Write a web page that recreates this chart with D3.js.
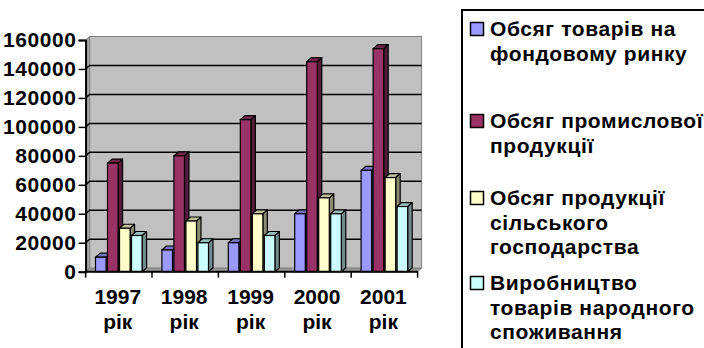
<!DOCTYPE html>
<html>
<head>
<meta charset="utf-8">
<script src="https://cdn.jsdelivr.net/npm/d3@7/dist/d3.min.js"></script>
<style>
  html, body { margin: 0; padding: 0; background: #ffffff; }
  svg { display: block; }
  text { font-family: "Liberation Sans", Arial, sans-serif; font-weight: bold; fill: #000; }
</style>
</head>
<body>
<div id="chart"></div>
<script>
// Categories and series
const years = ["1997", "1998", "1999", "2000", "2001"];
const yearSuffix = "рік";
const seriesNames = [
  "Обсяг товарів на фондовому ринку",
  "Обсяг промислової продукції",
  "Обсяг продукції сільського господарства",
  "Виробництво товарів народного споживання"
];
const legendLines = [
  ["Обсяг товарів на", "фондовому ринку"],
  ["Обсяг промислової", "продукції"],
  ["Обсяг продукції", "сільського", "господарства"],
  ["Виробництво", "товарів народного", "споживання"]
];
const stockMarket   = [10000, 15000, 20000, 40000, 70000];
const industrial    = [75000, 80000, 105000, 145000, 154000];
const agricultural  = [30000, 35000, 40000, 51000, 65000];
const consumerGoods = [25000, 20000, 25000, 40000, 45000];
const yTicks = [0, 20000, 40000, 60000, 80000, 100000, 120000, 140000, 160000];
const seriesColors = ["#9999FF", "#993366", "#FFFFCC", "#CCFFFF"];

const seriesValues = [stockMarket, industrial, agricultural, consumerGoods];

const W = 704, H = 348;
const svg = d3.select("#chart").append("svg").attr("width", W).attr("height", H);

// Plot frame (front plane) and 3D depth offsets
const plotLeft = 85.6, plotRight = 417.6, plotBottom = 271.7, plotTop = 40;
const wallDx = 4, wallDy = -3.5;   // back wall offset
const barDx = 4.5, barDy = -4;     // bar depth offset

const x0 = d3.scaleBand().domain(years).range([plotLeft, plotRight])
  .paddingInner(0.277).paddingOuter(0.1385);
const xCell = d3.scaleBand().domain(years).range([plotLeft, plotRight]).padding(0);
const x1 = d3.scaleBand().domain(d3.range(seriesNames.length)).range([0, x0.bandwidth()])
  .paddingInner(0.12).paddingOuter(0.06);
const y = d3.scaleLinear().domain([0, 160000]).range([plotBottom, plotTop]);

const g = svg.append("g");

// Back wall
g.append("rect")
  .attr("x", plotLeft + wallDx).attr("y", plotTop + wallDy)
  .attr("width", plotRight - plotLeft).attr("height", plotBottom - plotTop)
  .attr("fill", "#C0C0C0").attr("stroke", "#808080").attr("stroke-width", 1);

// Left side wall
g.append("path")
  .attr("d", `M${plotLeft},${plotTop} L${plotLeft + wallDx},${plotTop + wallDy} L${plotLeft + wallDx},${plotBottom + wallDy} L${plotLeft},${plotBottom} Z`)
  .attr("fill", "#A8A8A8").attr("stroke", "#808080").attr("stroke-width", 1);

// Floor
g.append("path")
  .attr("d", `M${plotLeft},${plotBottom} L${plotLeft + wallDx},${plotBottom + wallDy} L${plotRight + wallDx},${plotBottom + wallDy} L${plotRight},${plotBottom} Z`)
  .attr("fill", "#9A9A9A").attr("stroke", "#808080").attr("stroke-width", 1);

// Gridlines on the side and back walls
const gridVals = yTicks.filter(v => v > 0 && v < 160000);
gridVals.forEach(v => {
  const yy = y(v);
  g.append("path")
    .attr("d", `M${plotLeft},${yy} L${plotLeft + wallDx},${yy + wallDy} L${plotRight + wallDx},${yy + wallDy}`)
    .attr("fill", "none").attr("stroke", "#000").attr("stroke-width", 1.5);
});

// Bars (front, top and side faces)
const shade = (c, k) => { const r = d3.rgb(c); return d3.rgb(r.r * k, r.g * k, r.b * k).formatHex(); };
years.forEach((yr, i) => {
  seriesValues.forEach((vals, s) => {
    const bx = x0(yr) + x1(s);
    const bw = x1.bandwidth();
    const yt = y(vals[i]);
    const yb = y(0);
    const c = seriesColors[s];
    // side face
    g.append("path")
      .attr("d", `M${bx + bw},${yb} L${bx + bw + barDx},${yb + barDy} L${bx + bw + barDx},${yt + barDy} L${bx + bw},${yt} Z`)
      .attr("fill", shade(c, 0.55)).attr("stroke", "#000").attr("stroke-width", 1.2).attr("stroke-linejoin", "round");
    // top face
    g.append("path")
      .attr("d", `M${bx},${yt} L${bx + barDx},${yt + barDy} L${bx + bw + barDx},${yt + barDy} L${bx + bw},${yt} Z`)
      .attr("fill", shade(c, 0.75)).attr("stroke", "#000").attr("stroke-width", 1.2).attr("stroke-linejoin", "round");
    // front face
    g.append("rect")
      .attr("x", bx).attr("y", yt).attr("width", bw).attr("height", yb - yt)
      .attr("fill", c).attr("stroke", "#000").attr("stroke-width", 1.2);
  });
});

// Value axis
const yAxis = d3.axisLeft(y).tickValues(yTicks).tickSize(7).tickPadding(2).tickFormat(d3.format("d"));
const ya = svg.append("g").attr("transform", `translate(${plotLeft},0)`).call(yAxis);
ya.attr("font-family", null).attr("font-size", null);
ya.select(".domain").attr("stroke", "#000").attr("stroke-width", 2);
ya.selectAll(".tick line").attr("stroke", "#000").attr("stroke-width", 1.5);
ya.selectAll(".tick text").style("font-size", "21px").style("letter-spacing", "0.6px");

// Category axis
svg.append("line")
  .attr("x1", plotLeft).attr("x2", plotRight).attr("y1", plotBottom).attr("y2", plotBottom)
  .attr("stroke", "#000").attr("stroke-width", 2);
const tickXs = years.map(yr => xCell(yr)).concat([plotRight]);
svg.selectAll(".xtick").data(tickXs).enter().append("line")
  .attr("x1", d => d).attr("x2", d => d).attr("y1", plotBottom).attr("y2", plotBottom + 6)
  .attr("stroke", "#000").attr("stroke-width", 1.5);
const xl = svg.selectAll(".xlab").data(years).enter().append("text")
  .attr("text-anchor", "middle").style("font-size", "21px");
xl.append("tspan").attr("y", 304).attr("x", d => xCell(d) + xCell.bandwidth() / 2 - 1).text(d => d);
xl.append("tspan").attr("y", 329).attr("x", d => xCell(d) + xCell.bandwidth() / 2 - 1).text(yearSuffix);

// Legend
const lg = svg.append("g");
lg.append("rect").attr("x", 462).attr("y", 10).attr("width", 300).attr("height", 400)
  .attr("fill", "#fff").attr("stroke", "#000").attr("stroke-width", 2);
const entryTop = [36, 128, 205, 290];
const lineH = 24.5;
legendLines.forEach((lines, s) => {
  const by = entryTop[s];
  lg.append("rect").attr("x", 470.5).attr("y", by - 13.5).attr("width", 13).attr("height", 13)
    .attr("fill", seriesColors[s]).attr("stroke", "#000").attr("stroke-width", 1.5);
  const t = lg.append("text").style("font-size", "21px").style("letter-spacing", "0.6px");
  lines.forEach((ln, j) => {
    t.append("tspan").attr("x", 490).attr("y", by + j * lineH).text(ln);
  });
});
</script>
</body>
</html>
